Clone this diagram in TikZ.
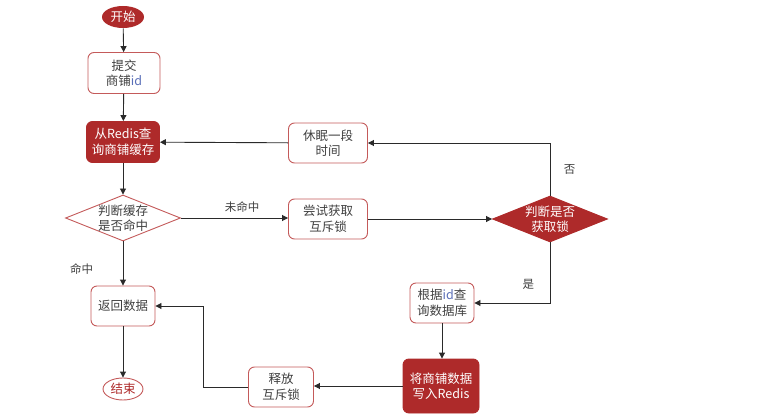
\documentclass[tikz,border=0pt]{standalone}
\usepackage{fontspec}
\setmainfont{Noto Sans CJK SC}
\usetikzlibrary{arrows.meta, positioning, shapes.geometric}
\definecolor{shopRed}{HTML}{AE2A2A}
\definecolor{shopEdge}{HTML}{C45A5A}
\definecolor{shopText}{HTML}{404040}
\definecolor{shopBlue}{HTML}{5A6FB8}
\definecolor{shopLine}{HTML}{2A2A2A}

\begin{document}
\begin{tikzpicture}[x=1pt, y=-1pt,
    flowbox/.style={rectangle, rounded corners=6pt, draw=shopEdge, fill=white,
                 line width=0.9pt, minimum height=40pt, align=center,
                 font=\fontsize{12.5}{15.5}\selectfont, text=shopText, inner sep=1pt},
    darkbox/.style={flowbox, fill=shopRed, draw=shopRed, text=white},
    decide/.style={diamond, draw=shopEdge, fill=white, line width=0.9pt,
                 minimum width=115pt, minimum height=46pt, aspect=2.5, inner sep=-3pt,
                 align=center, font=\fontsize{12.5}{15.5}\selectfont, text=shopText},
    terminal/.style={ellipse, line width=0.9pt, minimum width=42pt, minimum height=22pt,
                 inner sep=0pt, font=\fontsize{12.5}{15.5}\selectfont},
    lbl/.style={font=\fontsize{11.5}{13}\selectfont, text=shopText},
    arrow/.style={draw=shopLine, line width=0.9pt, -{Triangle[width=6pt, length=6pt]}},
  ]
    \useasboundingbox (0,0) rectangle (765,414);

    % main column
    \node[terminal, fill=shopRed, text=white] (start) at (123,17) {开始};
    \node[flowbox, minimum width=72pt, minimum height=41pt] (submit) at (124,73)
      {提交\\商铺\textcolor{shopBlue}{id}};
    \node[darkbox, minimum width=73pt, minimum height=41pt] (cache) at (123,142)
      {从Redis查\\询商铺缓存};
    \node[decide] (hit) at (123,218) {判断缓存\\是否命中};
    \node[flowbox, minimum width=64pt] (back) at (123,306) {返回数据};
    \node[terminal, draw=shopEdge, fill=white, text=shopRed, minimum width=40pt] (stop) at (123,389) {结束};

    % lock branch
    \node[flowbox, minimum width=79pt] (trylock) at (328,219) {尝试获取\\互斥锁};
    \node[flowbox, minimum width=79pt] (sleep) at (328,143) {休眠一段\\时间};
    \node[decide, fill=shopRed, draw=shopRed, text=white] (gotlock) at (550,219) {判断是否\\获取锁};
    \node[flowbox, minimum width=64pt] (dbq) at (442,303)
      {根据\textcolor{shopBlue}{id}查\\询数据库};
    \node[darkbox, minimum width=76pt, minimum height=54pt] (write) at (441,386)
      {将商铺数据\\写入Redis};
    \node[flowbox, minimum width=65pt] (release) at (281,387) {释放\\互斥锁};
    \coordinate (turn) at (203,387);

    % connectors
    \draw[arrow] (start) -- (submit);
    \draw[arrow] (submit) -- (cache);
    \draw[arrow] (cache) -- (hit);
    \draw[arrow] (hit) -- node[lbl, pos=0.62, left=26pt] {命中} (back);
    \draw[arrow] (back) -- (stop);
    \draw[arrow] (hit.east) -- node[lbl, pos=0.57, above=2pt] {未命中} (hit.east -| trylock.west);
    \draw[arrow] (trylock.east) -- (gotlock.west);
    \draw[arrow] (gotlock.north) |- node[lbl, pos=0.25, right=10pt] {否} (sleep.east);
    \draw[arrow] (sleep) -- (cache);
    \draw[arrow] (gotlock.south) |- node[lbl, pos=0.35, left=12pt] {是} (dbq.east);
    \draw[arrow] (dbq.south) -- (dbq.south |- write.north);
    \draw[arrow] (write.west) -- (write.west -| release.east);
    \draw[arrow] (release.west) -- (turn) |- (back.east);
  \end{tikzpicture}
\end{document}
